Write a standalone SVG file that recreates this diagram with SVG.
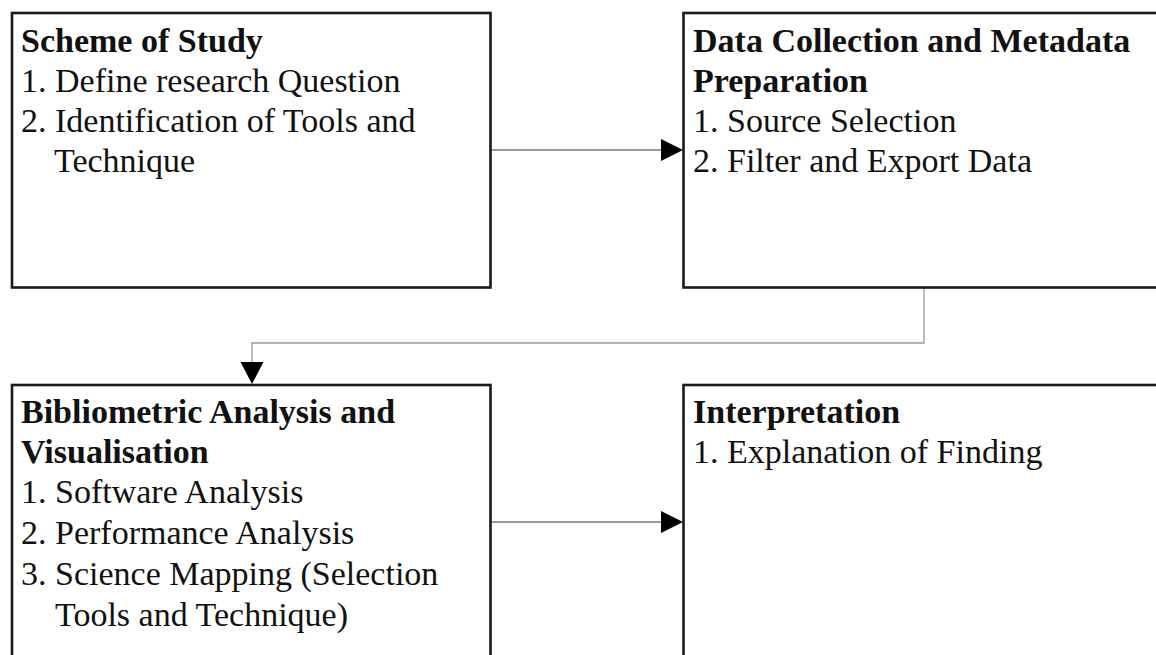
<svg xmlns="http://www.w3.org/2000/svg" width="1156" height="655" viewBox="0 0 1156 655">
<style>
.box{fill:#fff;stroke:#1a1a1a;stroke-width:2.6}
.t{font-family:"Liberation Serif","Times New Roman",serif;font-size:34px;fill:#111}
.h{font-weight:bold}
.conn{fill:none;stroke:#777;stroke-width:1.3}
.conn2{fill:none;stroke:#999;stroke-width:1.3}
.ah{fill:#000}
</style>
<rect width="1156" height="655" fill="#fff"/>
<g id="connectors">
<line class="conn" x1="491" y1="150" x2="662" y2="150"/>
<polygon class="ah" points="683,150 661,139 661,161"/>
<path class="conn2" d="M924 288 V343 H252 V363"/>
<polygon class="ah" points="252,384 240.5,362 263.5,362"/>
<line class="conn" x1="491" y1="522" x2="662" y2="522"/>
<polygon class="ah" points="683,522 661,511 661,533"/>
</g>
<g id="node-scheme">
<rect class="box" x="12" y="13" width="478.5" height="274.5"/>
<text class="t h" x="21" y="52">Scheme of Study</text>
<text class="t" x="21" y="92">1. Define research Question</text>
<text class="t" x="21" y="132">2. Identification of Tools and</text>
<text class="t" x="54" y="172">Technique</text>
</g>
<g id="node-data">
<rect class="box" x="683.5" y="13" width="490" height="274.5"/>
<text class="t h" x="693" y="52">Data Collection and Metadata</text>
<text class="t h" x="693" y="92">Preparation</text>
<text class="t" x="693" y="132">1. Source Selection</text>
<text class="t" x="693" y="172">2. Filter and Export Data</text>
</g>
<g id="node-biblio">
<rect class="box" x="12" y="385" width="478.5" height="290"/>
<text class="t h" x="21" y="423">Bibliometric Analysis and</text>
<text class="t h" x="21" y="463">Visualisation</text>
<text class="t" x="21" y="503">1. Software Analysis</text>
<text class="t" x="21" y="544">2. Performance Analysis</text>
<text class="t" x="21" y="585">3. Science Mapping (Selection</text>
<text class="t" x="55" y="626">Tools and Technique)</text>
</g>
<g id="node-interp">
<rect class="box" x="683.5" y="385" width="490" height="290"/>
<text class="t h" x="693" y="423">Interpretation</text>
<text class="t" x="693" y="463">1. Explanation of Finding</text>
</g>
</svg>
